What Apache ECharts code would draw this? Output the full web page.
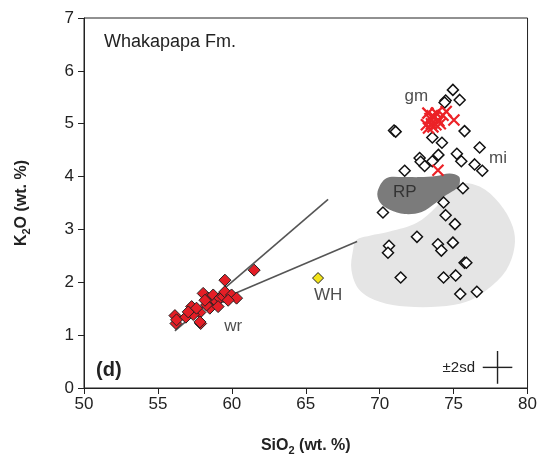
<!DOCTYPE html>
<html>
<head>
<meta charset="utf-8">
<script src="https://cdn.jsdelivr.net/npm/echarts@6/dist/echarts.min.js"></script>
<style>
  html, body { margin: 0; padding: 0; background: #fff; }
  #main { width: 540px; height: 464px; }
</style>
</head>
<body>
<div id="main"></div>
<script>
// whole rock (wr), red diamonds  [SiO2, K2O]
var wrData = [
  [59.53, 2.04], [61.51, 2.23], [56.15, 1.37], [56.22, 1.22], [56.26, 1.29], [56.89, 1.34],
  [57.28, 1.54], [57.84, 1.43], [57.89, 1.22], [57.84, 1.25], [57.39, 1.39], [57.05, 1.44],
  [57.61, 1.51], [58.06, 1.79], [58.40, 1.70], [58.63, 1.60], [58.74, 1.76], [58.97, 1.63],
  [59.19, 1.70], [59.41, 1.73], [59.53, 1.82], [59.98, 1.76], [60.32, 1.70], [59.75, 1.66],
  [58.51, 1.51], [58.29, 1.57], [58.18, 1.66], [59.07, 1.54]
];
// melt inclusions (mi), open diamonds
var miData = [
  [74.95, 5.64], [74.46, 5.44], [74.39, 5.40], [75.41, 5.45], [70.97, 4.87], [71.08, 4.85],
  [75.74, 4.86], [73.56, 4.74], [74.21, 4.64], [76.76, 4.55], [72.70, 4.35], [72.77, 4.28],
  [73.97, 4.41], [73.56, 4.29], [73.04, 4.20], [75.22, 4.43], [75.52, 4.29], [76.42, 4.23],
  [76.94, 4.11], [71.69, 4.11], [75.63, 3.78], [74.32, 3.51], [70.22, 3.32], [74.46, 3.27],
  [75.09, 3.10], [72.52, 2.86], [70.63, 2.69], [70.56, 2.56], [73.94, 2.72], [74.17, 2.60],
  [74.95, 2.75], [75.74, 2.37], [75.86, 2.37], [71.42, 2.09], [74.32, 2.09], [75.14, 2.13],
  [75.45, 1.78], [76.57, 1.82]
];
// groundmass glass (gm), red crosses
var gmData = [
  [73.26, 5.20], [73.16, 4.98], [73.94, 5.07], [74.50, 5.23], [75.02, 5.07], [73.83, 5.20],
  [73.60, 4.94], [74.28, 5.16], [73.40, 5.10], [73.50, 5.00], [73.70, 5.12], [73.80, 4.98],
  [74.00, 5.05], [73.55, 5.15], [73.30, 4.92], [74.10, 5.00], [73.94, 4.12]
];
var whData = [[65.83, 2.08]];
// trend lines
var line1 = [[56.15, 1.08], [66.51, 3.57]];
var line2 = [[56.50, 1.35], [68.47, 2.77]];
// fields
var rpField = [
  [69.86, 3.72], [70.45, 3.97], [71.69, 3.99], [72.70, 3.99], [73.83, 4.01], [74.73, 4.06],
  [75.36, 4.00], [75.41, 3.87], [75.22, 3.78], [74.50, 3.65], [73.78, 3.50], [72.84, 3.33],
  [71.69, 3.29], [70.68, 3.37], [70.00, 3.52]
];
var miField = [
  [68.43, 2.80], [69.32, 2.88], [70.68, 2.96], [72.48, 3.12], [73.83, 3.43], [74.51, 3.68],
  [75.41, 3.87], [76.76, 3.81], [78.11, 3.49], [79.00, 3.05], [79.12, 2.67], [78.56, 2.23],
  [77.21, 1.85], [75.86, 1.63], [74.05, 1.54], [71.80, 1.54], [70.00, 1.63], [68.65, 1.85],
  [68.09, 2.23], [68.20, 2.61]
];
// labels in data space
var fieldLabels = [
  ['gm', 72.48, 5.51], ['mi', 78.0, 4.35], ['RP', 71.69, 3.71], ['WH', 66.51, 1.76], ['wr', 60.09, 1.16]
];
// ±2sd cross: centre and half widths
var sdCentre = [77.97, 0.39];
var sdHalf = [1.0, 0.31];

var xTicks = [50, 55, 60, 65, 70, 75, 80];
var yTicks = [0, 1, 2, 3, 4, 5, 6, 7];

var FONT = 'Liberation Sans, Arial, sans-serif';
var myChart = echarts.init(document.getElementById('main'));

function polygonSeries(points, color, z) {
  return {
    type: 'custom',
    z: z,
    silent: true,
    data: [0],
    renderItem: function (params, api) {
      var pts = points.map(function (p) { return api.coord(p); });
      return {
        type: 'polygon',
        shape: { points: pts, smooth: 0.35 },
        style: { fill: color, stroke: null }
      };
    }
  };
}

var option = {
  animation: false,
  backgroundColor: '#fff',
  grid: {
    left: 84, right: 12, top: 18, bottom: 76,
    show: true, borderColor: '#222', borderWidth: 1
  },
  xAxis: {
    type: 'value', min: xTicks[0], max: xTicks[xTicks.length - 1], interval: 5,
    axisLine: { lineStyle: { color: '#222', width: 1 } },
    axisTick: { show: true, inside: false, length: 6, lineStyle: { color: '#222' } },
    axisLabel: { fontFamily: FONT, fontSize: 17, color: '#222', margin: 8 },
    splitLine: { show: false },
    name: '{b|SiO}{s|2}{b| (wt. %)}',
    nameLocation: 'middle', nameGap: 47,
    nameTextStyle: {
      rich: {
        b: { fontFamily: FONT, fontSize: 16, fontWeight: 'bold', color: '#222' },
        s: { fontFamily: FONT, fontSize: 11, fontWeight: 'bold', color: '#222', padding: [10, 0, 0, 0] }
      }
    }
  },
  yAxis: {
    type: 'value', min: yTicks[0], max: yTicks[yTicks.length - 1], interval: 1,
    axisLine: { show: true, lineStyle: { color: '#222', width: 1 } },
    axisTick: { show: true, inside: false, length: 6, lineStyle: { color: '#222' } },
    axisLabel: { fontFamily: FONT, fontSize: 17, color: '#222', margin: 10 },
    splitLine: { show: false },
    name: '{b|K}{s|2}{b|O (wt. %)}',
    nameLocation: 'middle', nameGap: 52,
    nameTextStyle: {
      rich: {
        b: { fontFamily: FONT, fontSize: 16, fontWeight: 'bold', color: '#222' },
        s: { fontFamily: FONT, fontSize: 11, fontWeight: 'bold', color: '#222', padding: [10, 0, 0, 0] }
      }
    }
  },
  graphic: [
    { type: 'text', left: 104, top: 33, silent: true,
      style: { text: 'Whakapapa Fm.', font: '18px ' + FONT, fill: '#222' } },
    { type: 'text', left: 96, top: 360, silent: true,
      style: { text: '(d)', font: 'bold 20px ' + FONT, fill: '#222' } },
    { type: 'text', right: 65, top: 360, silent: true,
      style: { text: '±2sd', font: '15px ' + FONT, fill: '#222' } }
  ],
  series: [
    polygonSeries(miField, '#e5e5e5', 1),
    polygonSeries(rpField, '#7b7b7b', 2),
    {
      type: 'line', data: line1, symbol: 'none', z: 3, silent: true,
      lineStyle: { color: '#555', width: 1.6 }
    },
    {
      type: 'line', data: line2, symbol: 'none', z: 3, silent: true,
      lineStyle: { color: '#555', width: 1.6 }
    },
    {
      type: 'custom', z: 3, silent: true, data: [0],
      renderItem: function (params, api) {
        var c = sdCentre;
        var l = api.coord([c[0] - sdHalf[0], c[1]]);
        var r = api.coord([c[0] + sdHalf[0], c[1]]);
        var t = api.coord([c[0], c[1] + sdHalf[1]]);
        var b = api.coord([c[0], c[1] - sdHalf[1]]);
        return {
          type: 'group',
          children: [
            { type: 'line', shape: { x1: l[0], y1: l[1], x2: r[0], y2: r[1] }, style: { stroke: '#222', lineWidth: 1.4 } },
            { type: 'line', shape: { x1: t[0], y1: t[1], x2: b[0], y2: b[1] }, style: { stroke: '#222', lineWidth: 1.4 } }
          ]
        };
      }
    },
    {
      type: 'scatter', data: miData, symbol: 'diamond', symbolSize: 11, z: 4,
      itemStyle: { color: '#fff', borderColor: '#111', borderWidth: 1.5, opacity: 1 }
    },
    {
      type: 'scatter', data: wrData, symbol: 'diamond', symbolSize: 12, z: 5,
      itemStyle: { color: '#e41e26', borderColor: '#222', borderWidth: 1, opacity: 1 }
    },
    {
      type: 'scatter', data: whData, symbol: 'diamond', symbolSize: 11, z: 5,
      itemStyle: { color: '#f2e31a', borderColor: '#222', borderWidth: 1, opacity: 1 }
    },
    {
      type: 'scatter', data: gmData, z: 6,
      symbol: 'path://M0,0L10,10M10,0L0,10', symbolSize: 11,
      itemStyle: { color: 'none', borderColor: '#ec2227', borderWidth: 2.2, opacity: 1 }
    },
    {
      type: 'scatter', z: 7, silent: true, symbolSize: 0,
      data: fieldLabels.map(function (d) { return { name: d[0], value: [d[1], d[2]] }; }),
      label: {
        show: true, position: 'inside', formatter: '{b}',
        fontFamily: FONT, fontSize: 17, color: '#222'
      }
    }
  ]
};

myChart.setOption(option);
</script>
</body>
</html>
